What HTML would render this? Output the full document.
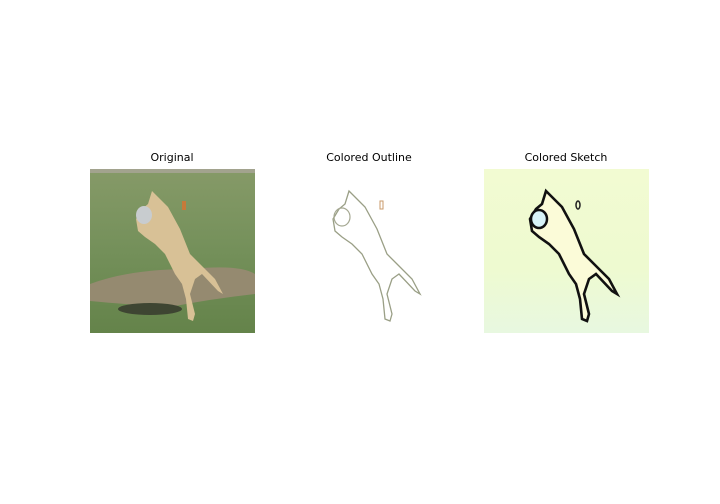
<!DOCTYPE html>
<html><head><meta charset="utf-8"><style>
body{margin:0;background:#fff;width:720px;height:504px;overflow:hidden;font-family:"DejaVu Sans","Liberation Sans",sans-serif}
.t{position:absolute;font-size:11px;color:#000;transform:translateX(-50%);top:151px;white-space:nowrap}
svg{position:absolute;top:169px}
</style></head><body>
<div class="t" style="left:172px">Original</div>
<div class="t" style="left:369px">Colored Outline</div>
<div class="t" style="left:566px">Colored Sketch</div>

<svg style="left:90px" width="165" height="164" viewBox="0 0 165 164">
<defs><linearGradient id="g1" x1="0" y1="0" x2="0" y2="1"><stop offset="0" stop-color="#869a68"/><stop offset="0.5" stop-color="#74905a"/><stop offset="1" stop-color="#64834a"/></linearGradient></defs>
<rect width="165" height="164" fill="url(#g1)"/>
<rect y="0" width="165" height="4" fill="#a2a38e"/>
<path d="M0 115 Q40 100 100 100 Q150 95 165 105 L165 125 Q120 130 80 138 Q30 135 0 132Z" fill="#958a70"/>
<ellipse cx="60" cy="140" rx="32" ry="6" fill="#3e4532"/>
<polygon points="62,22 68,28 78,38 90,60 100,85 110,95 125,110 133,125 128,122 112,105 105,110 100,125 105,145 103,152 98,150 96,130 92,115 85,105 75,85 65,75 55,68 48,62 46,50 52,40 58,35" fill="#d8c196"/>
<ellipse cx="54" cy="46" rx="8" ry="9" fill="#c8cccf"/>
<rect x="92" y="32" width="4" height="9" fill="#c67a3a"/>
</svg>

<svg style="left:287px" width="165" height="164" viewBox="0 0 165 164">
<rect width="165" height="164" fill="#fff"/>
<polygon points="62,22 68,28 78,38 90,60 100,85 110,95 125,110 133,125 128,122 112,105 105,110 100,125 105,145 103,152 98,150 96,130 92,115 85,105 75,85 65,75 55,68 48,62 46,50 52,40 58,35" fill="none" stroke="#9a9f86" stroke-width="1.3"/>
<ellipse cx="55" cy="48" rx="8" ry="9" fill="none" stroke="#a5a892" stroke-width="1.2"/>
<rect x="93" y="32" width="3" height="8" fill="none" stroke="#c99a6a"/>
</svg>

<svg style="left:484px" width="165" height="164" viewBox="0 0 165 164">
<defs><linearGradient id="g3" x1="0" y1="0" x2="0" y2="1"><stop offset="0" stop-color="#f2fbd2"/><stop offset="0.6" stop-color="#eefad0"/><stop offset="1" stop-color="#e8f8e0"/></linearGradient></defs>
<rect width="165" height="164" fill="url(#g3)"/>
<polygon points="62,22 68,28 78,38 90,60 100,85 110,95 125,110 133,125 128,122 112,105 105,110 100,125 105,145 103,152 98,150 96,130 92,115 85,105 75,85 65,75 55,68 48,62 46,50 52,40 58,35" fill="#fbfbd8" stroke="#111" stroke-width="2.6"/>
<ellipse cx="55" cy="50" rx="8" ry="9" fill="#d8f4f8" stroke="#111" stroke-width="2.5"/>
<ellipse cx="94" cy="36" rx="2" ry="4" fill="none" stroke="#222" stroke-width="1.5"/>
</svg>
</body></html>
